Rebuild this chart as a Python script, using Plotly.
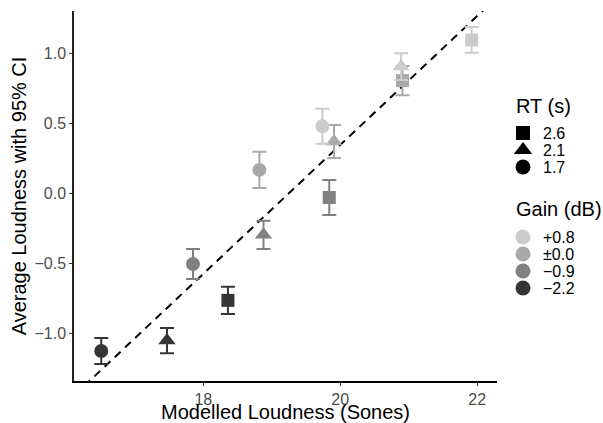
import numpy as np
import plotly.graph_objects as go

# ---- data ----
gain_levels = ["+0.8", "±0.0", "−0.9", "−2.2"]
gain_colors = ["#cccccc", "#a9a9a9", "#808080", "#353535"]
rt_levels = ["2.6", "2.1", "1.7"]
rt_symbols = ["square", "triangle-up", "circle"]

# per gain level: values ordered by RT (2.6, 2.1, 1.7)
x_p08 = [21.92, 20.89, 19.74]
y_p08 = [1.095, 0.905, 0.478]
e_p08 = [0.092, 0.095, 0.125]

x_000 = [20.91, 19.91, 18.82]
y_000 = [0.805, 0.370, 0.167]
e_000 = [0.105, 0.118, 0.130]

x_m09 = [19.84, 18.88, 17.85]
y_m09 = [-0.030, -0.297, -0.505]
e_m09 = [0.125, 0.101, 0.107]

x_m22 = [18.36, 17.47, 16.51]
y_m22 = [-0.765, -1.052, -1.127]
e_m22 = [0.098, 0.090, 0.093]

series_x = [x_p08, x_000, x_m09, x_m22]
series_y = [y_p08, y_000, y_m09, y_m22]
series_e = [e_p08, e_000, e_m09, e_m22]

x_range = [16.112, 22.29]
y_range = [-1.341, 1.302]

W, H = 603, 423
L, R, T, B = 74, 0, 11, 42
plot_right = 497  # pixel where main x axis ends
main_frac = (plot_right - L) / (W - L - R)

fig = go.Figure()

# regression line through all points
all_x = np.concatenate([np.array(v) for v in series_x])
all_y = np.concatenate([np.array(v) for v in series_y])
slope, intercept = np.polyfit(all_x, all_y, 1)
lx = np.array(x_range)
fig.add_trace(go.Scatter(
    x=lx, y=slope * lx + intercept, mode="lines",
    line=dict(color="black", width=2, dash="8px,6px"),
    showlegend=False, hoverinfo="skip"))

sizes = {"square": 13, "triangle-up": 15, "circle": 14}

for gi in [3, 2, 1, 0]:
    for ri, sym in enumerate(rt_symbols):
        fig.add_trace(go.Scatter(
            x=[series_x[gi][ri]], y=[series_y[gi][ri]], mode="markers",
            marker=dict(symbol=sym, size=sizes[sym], color=gain_colors[gi],
                        opacity=1, line=dict(width=0)),
            error_y=dict(type="data", array=[series_e[gi][ri]], visible=True,
                         color=gain_colors[gi], thickness=2, width=7),
            showlegend=False))

# ---- custom legend drawn in the right margin (pixel-based overlay axes) ----
key_x = 523
text_x = 541
title_x = 514
rt_title_y = 106
rt_key_y = [133, 150, 167]
gain_title_y = 209
gain_key_y = [237, 254, 271, 288]

fig.add_trace(go.Scatter(
    x=[key_x] * len(rt_levels), y=rt_key_y, mode="markers",
    marker=dict(symbol=rt_symbols, size=[14, 16, 15], color="black",
                opacity=1, line=dict(width=0)),
    xaxis="x2", yaxis="y2", showlegend=False, hoverinfo="skip"))
fig.add_trace(go.Scatter(
    x=[key_x] * len(gain_levels), y=gain_key_y, mode="markers",
    marker=dict(symbol="circle", size=15, color=gain_colors,
                opacity=1, line=dict(width=0)),
    xaxis="x2", yaxis="y2", showlegend=False, hoverinfo="skip"))

annotations = [
    dict(x=title_x, y=rt_title_y, text="RT (s)", font=dict(size=20)),
    dict(x=title_x, y=gain_title_y, text="Gain (dB)", font=dict(size=20)),
]
for lab, yy in zip(rt_levels, rt_key_y):
    annotations.append(dict(x=text_x, y=yy, text=lab, font=dict(size=16)))
for lab, yy in zip(gain_levels, gain_key_y):
    annotations.append(dict(x=text_x, y=yy, text=lab, font=dict(size=16)))
for a in annotations:
    a.update(xref="x2", yref="y2", xanchor="left", yanchor="middle",
             showarrow=False)

font_family = "Liberation Sans, Arial, sans-serif"
fig.update_layout(
    width=W, height=H,
    margin=dict(l=L, r=R, t=T, b=B),
    paper_bgcolor="white", plot_bgcolor="white",
    font=dict(family=font_family, color="black"),
    showlegend=False,
    annotations=annotations,
    xaxis=dict(domain=[0, main_frac], range=x_range, tickvals=[18, 20, 22],
               ticktext=["18", "20", "22"],
               showgrid=False, zeroline=False, showline=True, linecolor="black",
               linewidth=2, ticks="outside", ticklen=3, tickcolor="#333333",
               tickfont=dict(size=16, color="#4d4d4d"),
               title=dict(text="Modelled Loudness (Sones)", font=dict(size=20), standoff=0)),
    yaxis=dict(range=y_range, tickvals=[-1.0, -0.5, 0.0, 0.5, 1.0],
               ticktext=["−1.0", "−0.5", "0.0", "0.5", "1.0"],
               showgrid=False, zeroline=False, showline=True, linecolor="#222222",
               linewidth=1.5, ticks="outside", ticklen=3, tickcolor="#333333",
               tickfont=dict(size=16, color="#4d4d4d"),
               title=dict(text="Average Loudness with 95% CI", font=dict(size=20), standoff=2)),
    xaxis2=dict(domain=[main_frac, 1], range=[plot_right, W], visible=False,
                fixedrange=True),
    yaxis2=dict(domain=[0, 1], range=[H - B, T], visible=False, anchor="x2",
                fixedrange=True),
)

fig.write_html("out.html")
